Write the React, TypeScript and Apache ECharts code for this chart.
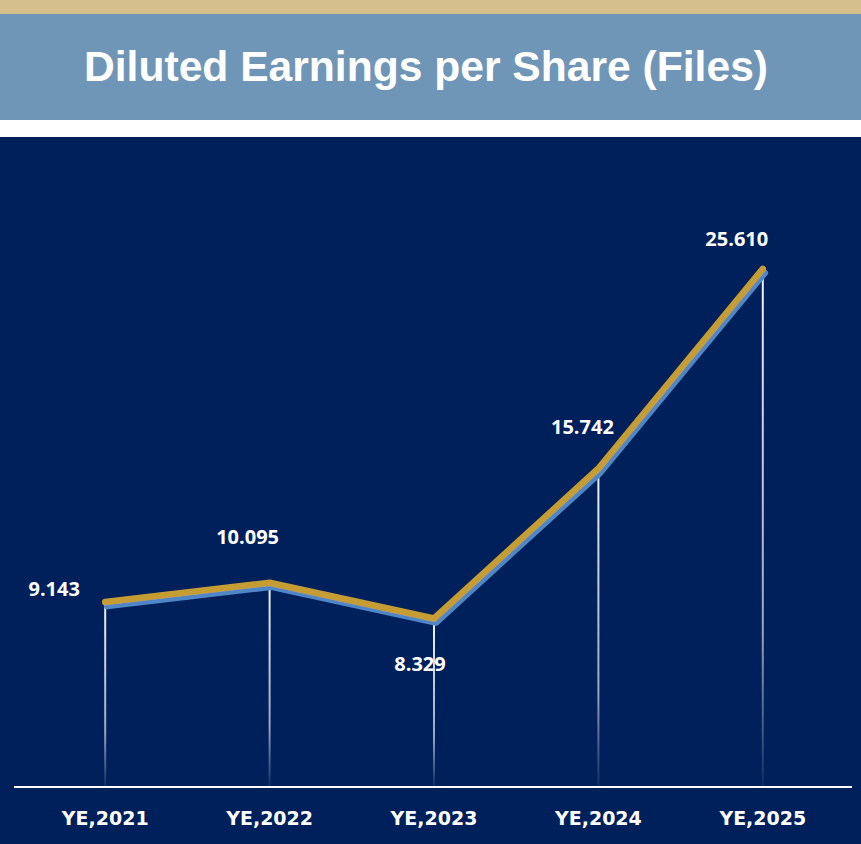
import React, { useEffect, useRef } from "react";
import * as echarts from "echarts";

const categories = ["YE,2021", "YE,2022", "YE,2023", "YE,2024", "YE,2025"];
const eps = [9.143, 10.095, 8.329, 15.742, 25.61];
const labelTexts = ["9.143", "10.095", "8.329", "15.742", "25.610"];
const labelPositions = ["top", "top", "bottom", "top", "top"];
const labelOffsets = [[-51, 2], [-22, -30], [-14, 29], [-16, -26], [-26, -14]];

export default function App() {
  const ref = useRef<HTMLDivElement>(null);
  useEffect(() => {
    document.body.style.margin = "0";
    const chart = echarts.init(ref.current!, null, { renderer: "svg" });
    chart.setOption({
      animation: false,
      backgroundColor: "#ffffff",
      graphic: [
        { type: "rect", shape: { x: 0, y: 0, width: 861, height: 14 }, style: { fill: "#D5BF8D" }, z: -10 },
        { type: "rect", shape: { x: 0, y: 14, width: 861, height: 106 }, style: { fill: "#7096B7" }, z: -10 },
        { type: "rect", shape: { x: 0, y: 137, width: 861, height: 707 }, style: { fill: "#00205C" }, z: -10 },
        { type: "line", shape: { x1: 14, y1: 787, x2: 852, y2: 787 }, style: { stroke: "#ffffff", lineWidth: 2 }, z: 10 },
      ],
      title: {
        text: "Diluted Earnings per Share (Files)",
        left: 79,
        top: 39,
        textStyle: { color: "#ffffff", fontFamily: "Liberation Sans", fontWeight: "bold", fontSize: 42.6 },
      },
      grid: { left: 23, right: 16, top: 180, bottom: 57 },
      xAxis: {
        type: "category",
        data: categories,
        axisLine: { show: false },
        axisTick: { show: false },
        axisLabel: { color: "#ffffff", fontFamily: "DejaVu Sans", fontWeight: "bold", fontSize: 19, margin: 21 },
      },
      yAxis: {
        type: "value",
        min: 0,
        max: 30,
        show: false,
        splitLine: { show: false },
      },
      series: [
        {
          type: "bar",
          data: eps,
          barWidth: 2,
          silent: true,
          z: 1,
          itemStyle: {
            color: new echarts.graphic.LinearGradient(0, 0, 0, 1, [
              { offset: 0, color: "rgba(255,255,255,0.95)" },
              { offset: 0.7, color: "rgba(255,255,255,0.6)" },
              { offset: 1, color: "rgba(255,255,255,0.05)" },
            ]),
          },
        },
        {
          type: "line",
          data: eps.map((v, i) => ({
            value: v,
            label: {
              show: true,
              position: labelPositions[i],
              offset: labelOffsets[i],
              formatter: () => labelTexts[i],
            },
          })),
          z: 5,
          symbol: "circle",
          symbolSize: 2,
          itemStyle: { color: "#C59D33" },
          lineStyle: {
            color: "#C59D33",
            width: 6.5,
            cap: "round",
            join: "round",
            shadowColor: "#4F86C6",
            shadowBlur: 0,
            shadowOffsetX: 2,
            shadowOffsetY: 4,
          },
          label: {
            color: "#ffffff",
            fontFamily: "Open Sans",
            fontWeight: "bold",
            fontSize: 20,
          },
        },
      ],
    });
    return () => chart.dispose();
  }, []);
  return <div ref={ref} style={{ position: "absolute", left: 0, top: 0, width: 861, height: 844 }} />;
}
